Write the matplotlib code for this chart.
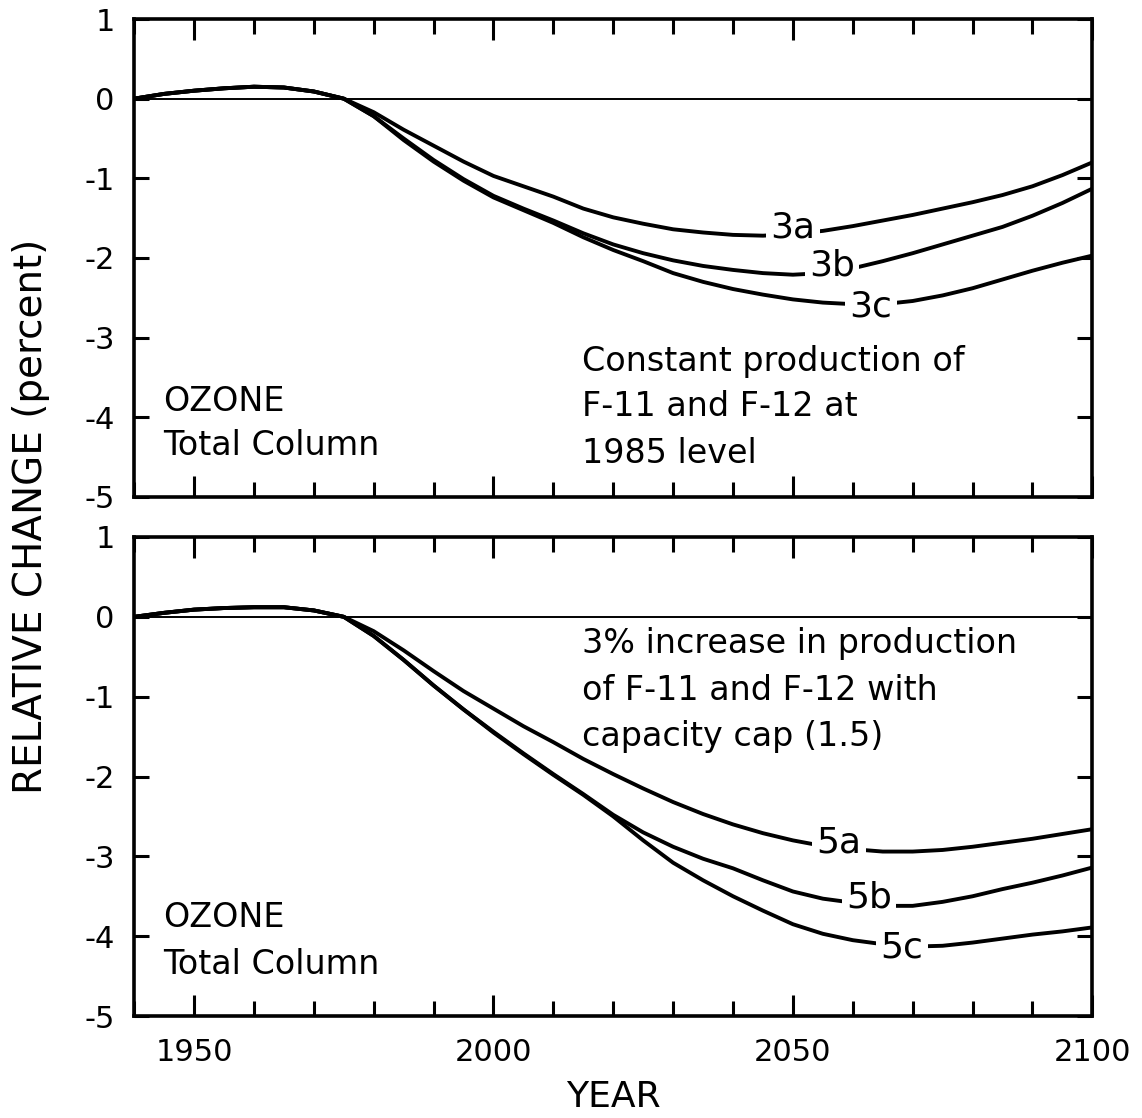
import matplotlib
matplotlib.use("Agg")
import matplotlib.pyplot as plt
from matplotlib.ticker import MultipleLocator, FixedLocator

plt.rcParams['font.family'] = ['DejaVu Sans']
plt.rcParams['axes.unicode_minus'] = False

years = list(range(1940, 2101, 5))

# Top panel: constant production
s3a = [0.00, 0.06, 0.10, 0.13, 0.15, 0.14, 0.09, 0.00, -0.17, -0.39, -0.59, -0.79, -0.97,
       -1.10, -1.23, -1.38, -1.49, -1.57, -1.64, -1.68, -1.71, -1.72, -1.70, -1.66, -1.60,
       -1.53, -1.46, -1.38, -1.30, -1.21, -1.10, -0.96, -0.80]
s3b = [0.00, 0.06, 0.10, 0.13, 0.15, 0.14, 0.09, 0.00, -0.22, -0.50, -0.77, -1.01, -1.22,
       -1.38, -1.53, -1.69, -1.83, -1.94, -2.03, -2.10, -2.15, -2.19, -2.21, -2.19, -2.13,
       -2.04, -1.94, -1.83, -1.72, -1.61, -1.47, -1.31, -1.13]
s3c = [0.00, 0.06, 0.10, 0.13, 0.15, 0.14, 0.09, 0.00, -0.22, -0.52, -0.79, -1.03, -1.24,
       -1.40, -1.56, -1.74, -1.90, -2.04, -2.19, -2.30, -2.39, -2.46, -2.52, -2.56, -2.58,
       -2.58, -2.54, -2.47, -2.38, -2.27, -2.16, -2.06, -1.97]

# Bottom panel: 3% increase with capacity cap
s5a = [0.00, 0.05, 0.09, 0.11, 0.12, 0.12, 0.08, 0.00, -0.18, -0.42, -0.68, -0.93, -1.15,
       -1.37, -1.57, -1.78, -1.97, -2.15, -2.32, -2.47, -2.60, -2.71, -2.80, -2.87, -2.91,
       -2.94, -2.94, -2.92, -2.88, -2.83, -2.78, -2.72, -2.66]
s5b = [0.00, 0.05, 0.09, 0.11, 0.12, 0.12, 0.08, 0.00, -0.24, -0.54, -0.86, -1.16, -1.44,
       -1.71, -1.97, -2.22, -2.48, -2.70, -2.88, -3.03, -3.15, -3.30, -3.44, -3.53, -3.58,
       -3.62, -3.62, -3.57, -3.50, -3.41, -3.33, -3.24, -3.14]
s5c = [0.00, 0.05, 0.09, 0.11, 0.12, 0.12, 0.08, 0.00, -0.24, -0.54, -0.86, -1.16, -1.45,
       -1.72, -1.98, -2.23, -2.50, -2.80, -3.08, -3.30, -3.50, -3.68, -3.85, -3.97, -4.05,
       -4.10, -4.13, -4.12, -4.08, -4.03, -3.98, -3.94, -3.89]

top_series = [("3a", s3a, 2050.0, -1.62), ("3b", s3b, 2056.5, -2.10), ("3c", s3c, 2063.0, -2.61)]
bot_series = [("5a", s5a, 2057.7, -2.83), ("5b", s5b, 2062.7, -3.51), ("5c", s5c, 2068.2, -4.14)]

top_note = ["Constant production of", "F-11 and F-12 at", "1985 level"]
bot_note = ["3% increase in production", "of F-11 and F-12 with", "capacity cap (1.5)"]
panel_name = ["OZONE", "Total Column"]

yticks = [1, 0, -1, -2, -3, -4, -5]
xlabels = [1950, 2000, 2050, 2100]

fig = plt.figure(figsize=(11.42, 11.18), dpi=100)
L, R = 0.1175, 0.9565
ax1 = fig.add_axes([L, 0.5555, R - L, 0.983 - 0.5555])
ax2 = fig.add_axes([L, 0.0912, R - L, 0.5197 - 0.0912])

lw = 2.8
for ax, series, note, note_y, name_y in [
        (ax1, top_series, top_note, [-3.30, -3.87, -4.45], [-3.80, -4.35]),
        (ax2, bot_series, bot_note, [-0.33, -0.92, -1.50], [-3.76, -4.36])]:
    ax.set_xlim(1940, 2100)
    ax.set_ylim(-5, 1)
    ax.axhline(0, color='black', lw=1.4, zorder=2)
    for lab, vals, lx, ly in series:
        ax.plot(years, vals, color='black', lw=lw, solid_capstyle='round',
                solid_joinstyle='round', zorder=3)
        ax.text(lx, ly, lab, fontsize=26, ha='center', va='center', zorder=5,
                bbox=dict(boxstyle='square,pad=0.12', fc='white', ec='none'))
    for i, t in enumerate(note):
        ax.text(2014.8, note_y[i], t, fontsize=24, ha='left', va='center')
    for i, t in enumerate(panel_name):
        ax.text(1944.8, name_y[i], t, fontsize=24, ha='left', va='center')
    for sp in ax.spines.values():
        sp.set_linewidth(2.6)
    ax.set_yticks(yticks)
    ax.set_yticklabels([str(v) for v in yticks], fontsize=22)
    ax.xaxis.set_major_locator(FixedLocator(xlabels))
    ax.xaxis.set_minor_locator(MultipleLocator(10))
    ax.tick_params(axis='x', which='major', direction='in', length=15, width=2.2,
                   top=True, bottom=True, labelsize=22, pad=16)
    ax.tick_params(axis='x', which='minor', direction='in', length=11, width=2.2,
                   top=True, bottom=True)
    ax.tick_params(axis='y', which='major', direction='in', length=11, width=2.2,
                   left=True, right=True, labelsize=22, pad=14)

ax1.tick_params(axis='x', labelbottom=False)
ax2.set_xticklabels([str(v) for v in xlabels])

fig.text(0.537, 0.019, "YEAR", fontsize=26, ha='center', va='center')
fig.text(0.027, 0.538, "RELATIVE CHANGE (percent)", fontsize=28, rotation=90,
         ha='center', va='center')

fig.savefig("out.png", dpi=100, facecolor='white')
